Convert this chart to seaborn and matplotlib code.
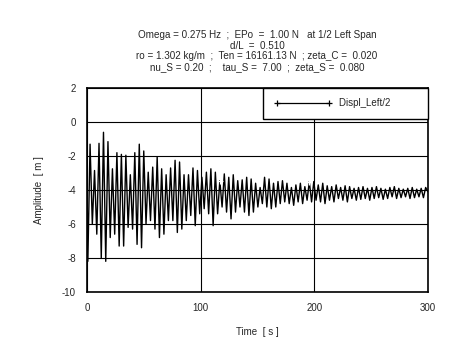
import numpy as np
import pandas as pd
import matplotlib
matplotlib.use("Agg")
import matplotlib.pyplot as plt
from matplotlib.lines import Line2D
import seaborn as sns

# ---- data ----
peaks = [-1.3, -2.85, -1.25, -0.6, -1.15, -2.75, -1.8, -1.9, -1.95, -3.1, -1.8, -1.3,
         -1.7, -2.95, -2.65, -2.05, -2.75, -3.1, -2.7, -2.25, -2.35, -3.1, -3.1, -2.7,
         -2.85, -3.25, -2.95, -2.75, -2.95, -3.45, -3.05, -3.25, -3.1, -3.45, -3.4, -3.25,
         -3.35, -3.6, -3.85, -3.25, -3.35, -3.6, -3.5, -3.45, -3.6, -3.85, -3.7, -3.6,
         -3.8, -3.5,
         -3.5, -3.7, -3.6, -3.75, -3.8, -3.7, -3.85, -3.75, -3.8, -3.9, -3.85, -3.8,
         -3.9, -3.85, -3.8, -3.9, -3.95, -3.85, -3.8, -3.9, -3.95, -3.9, -3.85, -3.95,
         -3.9, -3.85]
troughs = [-8.2, -6.0, -6.6, -8.0, -8.2, -6.8, -6.6, -7.3, -7.3, -6.2, -6.3, -7.2,
           -7.4, -6.0, -5.8, -6.3, -6.8, -6.6, -5.8, -5.8, -6.5, -6.3, -5.8, -5.5,
           -6.1, -5.4, -5.1, -5.4, -6.1, -5.4, -5.0, -5.3, -5.7, -5.3, -5.0, -5.3,
           -5.5, -5.3, -5.0, -4.8, -5.0, -5.1, -5.0, -4.8, -4.7, -4.8, -4.9, -4.7,
           -4.8, -4.6,
           -4.7, -4.6, -4.7, -4.8, -4.6, -4.7, -4.5, -4.6, -4.7, -4.5, -4.6, -4.55,
           -4.5, -4.6, -4.5, -4.45, -4.55, -4.5, -4.4, -4.5, -4.45, -4.4, -4.5, -4.45,
           -4.4, -4.45]
peak_times = np.linspace(2.6, 298.0, len(peaks))
half_period = 1.95
start_value = -4.0
end_value = -4.1

title_lines = [
    "Omega = 0.275 Hz  ;  EPo  =  1.00 N   at 1/2 Left Span",
    "d/L  =  0.510",
    "ro = 1.302 kg/m  ;  Ten = 16161.13 N  ; zeta_C =  0.020",
    "nu_S = 0.20  ;    tau_S =  7.00  ;  zeta_S =  0.080",
]
x_ticks = [0, 100, 200, 300]
y_ticks = [2, 0, -2, -4, -6, -8, -10]
series_name = "Displ_Left/2"

# ---- build series ----
t = [0.0]
v = [start_value]
for pt, pv, tv in zip(peak_times, peaks, troughs):
    t += [pt - half_period, pt]
    v += [tv, pv]
t.append(300.0)
v.append(end_value)
df = pd.DataFrame({"Time": t, "Amp": v})

sns.set_style("white")
plt.rcParams["font.family"] = ["Liberation Sans", "DejaVu Sans"]
plt.rcParams["axes.unicode_minus"] = False

fig = plt.figure(figsize=(4.76, 3.43), dpi=100)
ax = fig.add_axes([0.183, 0.149, 0.716, 0.594])

sns.lineplot(data=df, x="Time", y="Amp", sort=False, estimator=None, color="black",
             lw=1.0, marker="+", markersize=5, mew=0.9, markevery=[60, 100],
             legend=False, ax=ax)

ax.set_xlim(0, 300)
ax.set_ylim(-10, 2)
ax.set_xticks(x_ticks)
ax.set_yticks(y_ticks)
ax.set_xticks([25, 50, 75, 125, 150, 175, 225, 250, 275], minor=True)
ax.set_yticks(np.arange(-10, 2.01, 1.0), minor=True)
ax.tick_params(which="both", direction="in", color="black", labelsize=7,
               top=False, right=False)
ax.tick_params(which="major", length=0, pad=8)
ax.tick_params(which="minor", length=3, width=0.8)
ax.grid(True, which="major", color="black", lw=0.8)
for s in ax.spines.values():
    s.set_color("black")
    s.set_linewidth(1.2)

ax.set_xlabel("Time  [ s ]", fontsize=7, labelpad=10)
ax.set_ylabel("Amplitude  [ m ]", fontsize=7, labelpad=13)

handle = Line2D([], [], color="black", lw=0.9, marker="+", markersize=5, mew=0.9)
leg = ax.legend([handle], [series_name + "          "], loc="upper right",
                frameon=True, fancybox=False, fontsize=7, handlelength=6,
                handletextpad=0.7, borderaxespad=0, borderpad=1.05, numpoints=2,
                edgecolor="black", framealpha=1)
leg.get_frame().set_linewidth(1.0)

for i, line in enumerate(title_lines):
    fig.text(257 / 476, (343 - 35 - i * 10.6) / 343, line, ha="center", va="center",
             fontsize=7.1)

fig.savefig("out.png", dpi=100)
